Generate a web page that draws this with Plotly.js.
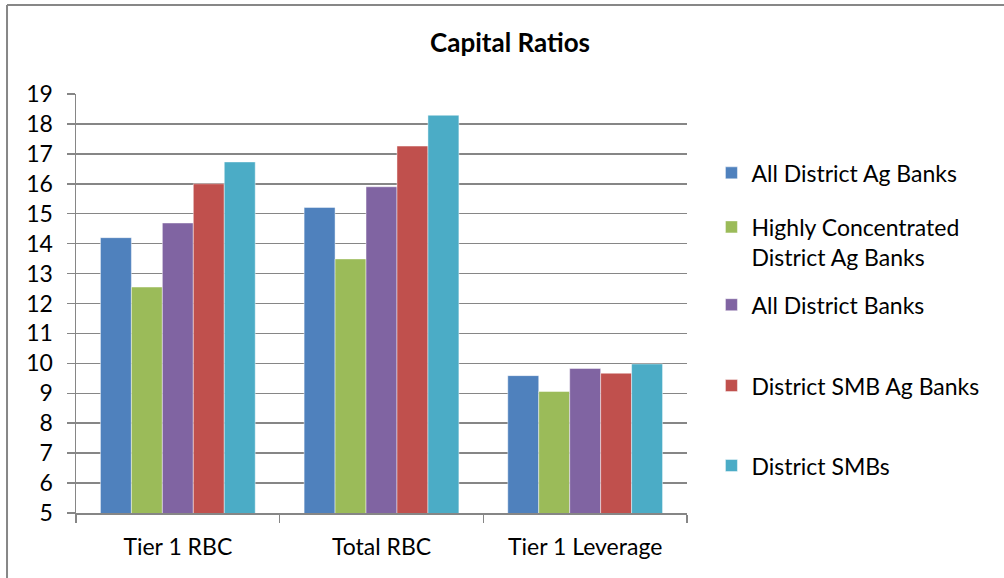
<!DOCTYPE html>
<html>
<head>
<meta charset="utf-8">
<script src="https://cdn.plot.ly/plotly-3.0.1.min.js"></script>
<style>
html,body{margin:0;padding:0;background:#fff;}
#chart{width:1004px;height:578px;}
</style>
</head>
<body>
<div id="chart"></div>
<script>
var categories = ["Tier 1 RBC", "Total RBC", "Tier 1 Leverage"];
var seriesNames = ["All District Ag Banks", "Highly Concentrated<br>District Ag Banks", "All District Banks", "District SMB Ag Banks", "District SMBs"];
var allDistrictAgBanks = [14.2, 15.21, 9.59];
var highlyConcentratedAgBanks = [12.55, 13.49, 9.06];
var allDistrictBanks = [14.69, 15.9, 9.83];
var districtSMBAgBanks = [16.0, 17.26, 9.67];
var districtSMBs = [16.73, 18.29, 9.98];
var yTickVals = [5,6,7,8,9,10,11,12,13,14,15,16,17,18,19];

var seriesValues = [allDistrictAgBanks, highlyConcentratedAgBanks, allDistrictBanks, districtSMBAgBanks, districtSMBs];
var colors = ["#4F81BD", "#9BBB59", "#8064A2", "#C0504D", "#4BACC6"];
var legendIds = ["legend", "legend2", "legend3", "legend4", "legend5"];
var legendY = [0.8117, 0.734, 0.497, 0.304, 0.1132];

var FONT = "Lato, 'Liberation Sans', sans-serif";
var FS = 23;

var traces = seriesValues.map(function(vals, i){
  return {
    type: "bar",
    name: seriesNames[i],
    x: categories,
    y: vals,
    base: 0,
    showlegend: true,
    marker: {color: colors[i], line: {color: "rgba(255,255,255,0.45)", width: 1}},
    legend: legendIds[i],
    hoverinfo: "x+y+name"
  };
});

var layout = {
  width: 1004,
  height: 578,
  showlegend: true,
  paper_bgcolor: "#ffffff",
  plot_bgcolor: "#ffffff",
  margin: {l: 76, r: 317, t: 94, b: 64.5, autoexpand: false},
  font: {family: FONT, size: FS, color: "#000000"},
  title: {
    text: "<b>Capital Ratios</b>",
    font: {family: FONT, size: 26, color: "#000000"},
    xref: "container", yref: "container",
    x: 0.508, xanchor: "center",
    y: 0.9256, yanchor: "middle"
  },
  barmode: "group",
  bargap: 0.24,
  bargroupgap: 0,
  xaxis: {
    type: "category",
    tickson: "boundaries",
    ticks: "outside",
    ticklen: 8,
    tickwidth: 1.5,
    tickcolor: "#868686",
    showline: true,
    linecolor: "#868686",
    linewidth: 1.5,
    showgrid: false,
    ticklabelstandoff: 13,
    tickfont: {family: FONT, size: FS, color: "#000000"},
    fixedrange: true
  },
  yaxis: {
    range: [5, 19],
    tickvals: yTickVals,
    ticks: "outside",
    ticklen: 8,
    tickwidth: 1.5,
    tickcolor: "#868686",
    showline: true,
    linecolor: "#868686",
    linewidth: 1.5,
    showgrid: true,
    gridcolor: "#868686",
    gridwidth: 1.5,
    zeroline: false,
    ticklabelstandoff: 9,
    tickfont: {family: FONT, size: FS, color: "#000000"},
    fixedrange: true
  },
  shapes: [
    {type: "line", xref: "paper", yref: "paper", x0: -0.1129, x1: -0.1129, y0: -0.3, y1: 1.2122, line: {color: "#878787", width: 2}},
    {type: "line", xref: "paper", yref: "paper", x0: -0.1129, x1: 1.8, y0: 1.2122, y1: 1.2122, line: {color: "#878787", width: 2}}
  ]
};

legendIds.forEach(function(id, i){
  layout[id] = {
    visible: true,
    x: 1.040, xanchor: "left",
    y: legendY[i], yanchor: i === 1 ? "top" : "middle",
    valign: "top",
    bgcolor: "rgba(0,0,0,0)",
    borderwidth: 0,
    itemwidth: 30,
    font: {family: FONT, size: FS, color: "#000000"},
    itemclick: false, itemdoubleclick: false
  };
});

Plotly.newPlot("chart", traces, layout, {displayModeBar: false, staticPlot: true});
</script>
</body>
</html>
